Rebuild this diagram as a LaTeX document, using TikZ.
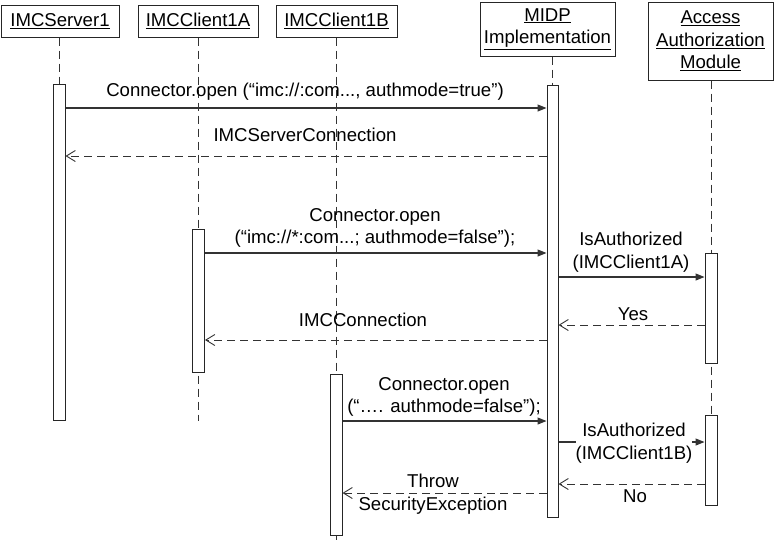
\documentclass[tikz,border=0pt]{standalone}
\usepackage{fontspec}
\setmainfont{Liberation Sans}
\usetikzlibrary{arrows.meta}
\begin{document}
\begin{tikzpicture}[x=1pt,y=-1pt,
  every node/.style={font=\fontsize{18.6}{22.5}\selectfont},
  head/.style={draw=black!85,line width=1pt,fill=white,align=center,inner sep=0pt},
  bar/.style={draw=black!85,line width=1pt,fill=white,minimum width=12pt,inner sep=0pt},
  lifeline/.style={draw=black!80,line width=1pt,dash pattern=on 8pt off 5pt},
  msg/.style={draw=black!80,line width=1.1pt,-{Triangle[length=9pt,width=7pt]}},
  ret/.style={draw=black!80,line width=1pt,dash pattern=on 8pt off 5pt,-{Straight Barb[length=9pt,width=11pt,line width=0.9pt]}},
  lbl/.style={align=center,inner sep=0pt}]
\useasboundingbox (0,0) rectangle (775,542);
% heads
\node[head,minimum width=118pt,minimum height=32pt] (s1h) at (60,21) {\underline{IMCServer1}};
\node[head,minimum width=120pt,minimum height=32pt] (c1ah) at (198,21) {\underline{IMCClient1A}};
\node[head,minimum width=121pt,minimum height=32pt] (c1bh) at (336.5,21) {\underline{IMCClient1B}};
\node[head,minimum width=135pt,minimum height=54pt] (midph) at (547.5,29) {\underline{MIDP}\\\underline{Implementation}};
\node[head,minimum width=125pt,minimum height=78pt] (aamh) at (710.5,41) {\underline{Access}\\\underline{Authorization}\\\underline{Module}};
% end points of lifelines
\coordinate (c1aend) at (198.5,421);
\coordinate (c1bend) at (336,542);
% lifelines (drawn before bars)
\draw[lifeline] (s1h.south -| 59,0) -- (59,84);
\draw[lifeline] (c1ah.south -| c1aend) -- (c1aend);
\draw[lifeline] (c1bh.south -| c1bend) -- (c1bend);
\draw[lifeline] (midph.south -| 552.5,0) -- (552.5,85);
\draw[lifeline] (aamh.south -| 711,0) -- (711,415);
% bars
\node[bar,minimum height=336pt] (sbar) at (59,252) {};
\node[bar,minimum width=11pt,minimum height=432pt] (mbar) at (552.5,301) {};
\node[bar,minimum height=143pt] (abar) at (198.5,300.5) {};
\node[bar,minimum height=110pt] (aam1) at (711,308) {};
\node[bar,minimum height=161pt] (bbar) at (336,454.5) {};
\node[bar,minimum height=90pt] (aam2) at (711,460) {};
% message levels
\coordinate (y1) at (0,108);
\coordinate (y2) at (0,156);
\coordinate (y3) at (0,253);
\coordinate (y4) at (0,340);
\coordinate (y5) at (0,277);
\coordinate (y6) at (0,325);
\coordinate (y7) at (0,421);
\coordinate (y8) at (0,442);
\coordinate (y9) at (0,484);
\coordinate (y10) at (0,493);
% messages
\draw[msg] (sbar.east |- y1) -- (mbar.west |- y1);
\node[lbl] (l1) at (305,92) {Connector.open (“imc://:com..., authmode=true”)};
\draw[ret] (mbar.west |- y2) -- (sbar.east |- y2);
\node[lbl] (l2) at (305,135) {IMCServerConnection};
\draw[msg] (abar.east |- y3) -- (mbar.west |- y3);
\node[lbl] (l3) at (375,228) {Connector.open\\(“imc://*:com...; authmode=false”);};
\draw[ret] (mbar.west |- y4) -- (abar.east |- y4);
\node[lbl] (l4) at (363,320) {IMCConnection};
\draw[msg] (mbar.east |- y5) -- (aam1.west |- y5);
\node[lbl] (l5) at (631,252) {IsAuthorized\\(IMCClient1A)};
\draw[ret] (aam1.west |- y6) -- (mbar.east |- y6);
\node[lbl] (l6) at (633,314) {Yes};
\draw[msg] (bbar.east |- y7) -- (mbar.west |- y7);
\node[lbl] (l7) at (444,397) {Connector.open\\(“…. authmode=false”);};
\draw[msg] (mbar.east |- y8) -- (aam2.west |- y8);
\node[lbl,fill=white] (l8) at (634,443) {IsAuthorized\\(IMCClient1B)};
\draw[ret] (aam2.west |- y9) -- (mbar.east |- y9);
\node[lbl] (l9) at (635,496) {No};
\draw[ret] (mbar.west |- y10) -- (bbar.east |- y10);
\node[lbl] (l10) at (433,494) {Throw\\SecurityException};
\end{tikzpicture}
\end{document}
